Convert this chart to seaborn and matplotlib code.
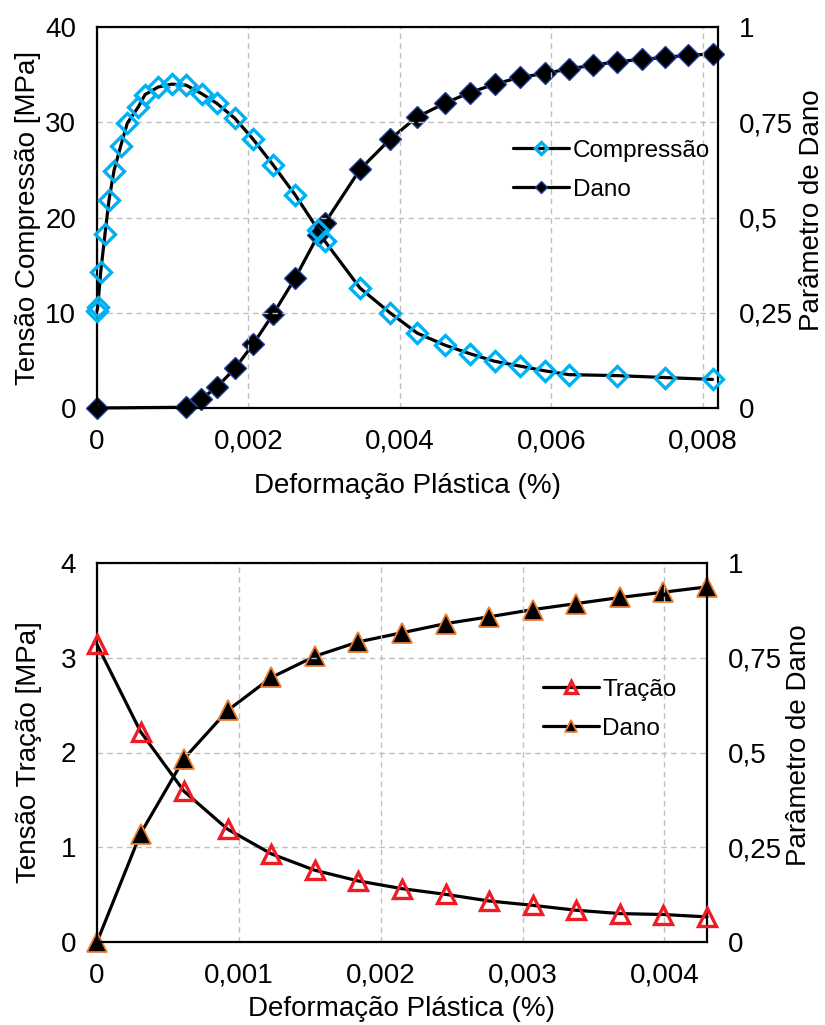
import matplotlib
matplotlib.use("Agg")
import matplotlib.pyplot as plt
from matplotlib.ticker import FixedLocator, FuncFormatter
import seaborn as sns
import pandas as pd

# --- Compressão (tensão x deformação plástica) ---
comp_strain = [0.0, 0.00001, 0.000049, 0.000106, 0.000158, 0.000224, 0.000313, 0.0004,
               0.000545, 0.000634, 0.000809, 0.000986, 0.001175, 0.001382, 0.00158,
               0.001822, 0.002063, 0.002327, 0.002614, 0.002921, 0.00301, 0.003472,
               0.003868, 0.004231, 0.004594, 0.004924, 0.005254, 0.005584, 0.005914,
               0.006235, 0.006865, 0.007498, 0.008128]
comp_stress = [10.2, 10.6, 14.3, 18.3, 21.8, 24.9, 27.5, 29.9,
               31.6, 32.9, 33.7, 34.0, 33.9, 33.0, 32.0,
               30.4, 28.2, 25.5, 22.4, 18.7, 17.5, 12.6,
               10.0, 7.85, 6.6, 5.7, 4.9, 4.4, 3.9,
               3.5, 3.4, 3.2, 3.0]

# --- Dano de compressão ---
dc_strain = [0.0, 0.001175, 0.001373, 0.001588, 0.001822, 0.002063, 0.002327, 0.002614,
             0.002921, 0.00301, 0.003472, 0.003868, 0.00422, 0.004594, 0.004924,
             0.005254, 0.005584, 0.005914, 0.006235, 0.006552, 0.006869, 0.007191,
             0.007498, 0.007806, 0.008128]
dc_damage = [0.0, 0.002, 0.023, 0.056, 0.104, 0.168, 0.247, 0.340,
             0.454, 0.486, 0.626, 0.705, 0.763, 0.800, 0.828,
             0.850, 0.868, 0.878, 0.890, 0.900, 0.909, 0.915,
             0.920, 0.926, 0.929]

# --- Tração e dano de tração ---
tr_strain = [0.0, 0.000307, 0.000614, 0.000921, 0.001229, 0.001536, 0.001843, 0.00215,
             0.002457, 0.002764, 0.003071, 0.003379, 0.003686, 0.003993, 0.0043]
tr_stress = [3.14, 2.22, 1.59, 1.19, 0.93, 0.757, 0.644, 0.563,
             0.503, 0.433, 0.387, 0.335, 0.30, 0.29, 0.265]
dt_damage = [0.0, 0.286, 0.484, 0.611, 0.698, 0.754, 0.792, 0.816,
             0.84, 0.858, 0.877, 0.893, 0.909, 0.923, 0.937]

top_xticks = [0, 0.002, 0.004, 0.006, 0.008]
top_yticks = [0, 10, 20, 30, 40]
bot_xticks = [0, 0.001, 0.002, 0.003, 0.004]
bot_yticks = [0, 1, 2, 3, 4]
dmg_ticks = [0, 0.25, 0.5, 0.75, 1]

sns.set_theme(style="white")
plt.rcParams["font.family"] = ["Liberation Sans", "DejaVu Sans"]
plt.rcParams["text.color"] = "black"
plt.rcParams["axes.labelcolor"] = "black"

CYAN = "#00B0F0"
NAVY = "#1F3F99"
RED = "#EE1C25"
ORANGE = "#ED7D31"
GRID = "#BFBFBF"
FS = 20
LFS = 17.5
LW = 2.3


def comma(v, pos=None):
    if v == 0:
        return "0"
    s = f"{v:.3f}".rstrip("0").rstrip(".")
    return s.replace(".", ",")


def style_axes(ax, xticks, yticks, xlim, ylim):
    ax.set_xlim(*xlim)
    ax.set_ylim(*ylim)
    ax.xaxis.set_major_locator(FixedLocator(xticks))
    ax.yaxis.set_major_locator(FixedLocator(yticks))
    ax.xaxis.set_major_formatter(FuncFormatter(comma))
    ax.yaxis.set_major_formatter(FuncFormatter(comma))
    ax.grid(True, color=GRID, linestyle=(0, (4, 3)), linewidth=1.0)
    ax.tick_params(length=0, labelsize=FS, colors="black")
    ax.tick_params(axis="x", pad=15)
    ax.tick_params(axis="y", pad=15)
    for sp in ax.spines.values():
        sp.set_color("black")
        sp.set_linewidth(1.6)


def style_right(ax2):
    ax2.set_ylim(0, 1)
    ax2.yaxis.set_major_locator(FixedLocator(dmg_ticks))
    ax2.yaxis.set_major_formatter(FuncFormatter(comma))
    ax2.tick_params(length=0, labelsize=FS, colors="black", pad=15)
    ax2.grid(False)
    for sp in ax2.spines.values():
        sp.set_visible(False)


fig = plt.figure(figsize=(8.25, 10.25), dpi=100)
ax1 = fig.add_axes([97 / 825, 1 - 408 / 1025, 621 / 825, 381 / 1025])
ax3 = fig.add_axes([97 / 825, 1 - 942 / 1025, 610 / 825, 379 / 1025])

# ---------------- Compressão ----------------
style_axes(ax1, top_xticks, top_yticks, (0, 0.0082), (0, 40))
ax2 = ax1.twinx()
style_right(ax2)

df_c = pd.DataFrame({"x": comp_strain, "y": comp_stress})
df_dc = pd.DataFrame({"x": dc_strain, "y": dc_damage})
sns.lineplot(data=df_dc, x="x", y="y", ax=ax2, color="black", linewidth=LW,
             marker="D", markersize=11, markerfacecolor="black",
             markeredgecolor=NAVY, markeredgewidth=1.0, label="Dano",
             sort=False, zorder=3, clip_on=False)
sns.lineplot(data=df_c, x="x", y="y", ax=ax1, color="black", linewidth=LW,
             marker="D", markersize=10, markerfacecolor="none",
             markeredgecolor=CYAN, markeredgewidth=2.4, label="Compressão",
             sort=False, zorder=3, clip_on=False)
ax1.set_zorder(ax2.get_zorder() + 1)
ax1.patch.set_visible(False)
ax2.get_legend().remove()
h1, l1 = ax1.get_legend_handles_labels()
h2, l2 = ax2.get_legend_handles_labels()
ax1.legend(h1 + h2, l1 + l2, loc="upper left", bbox_to_anchor=(0.655, 0.73),
           frameon=False, fontsize=LFS, markerscale=0.6, handlelength=2.3,
           handletextpad=0.15, labelspacing=0.7, borderaxespad=0)
for ax in (ax1, ax2):
    ax.set_xlim(0, 0.0082)

ax1.set_xlabel("Deformação Plástica (%)", fontsize=FS)
ax1.set_ylabel("Tensão Compressão [MPa]", fontsize=FS)
ax2.set_ylabel("Parâmetro de Dano", fontsize=FS)
ax1.xaxis.set_label_coords(0.5, -0.17)
ax1.yaxis.set_label_coords(-0.09, 0.5)
ax2.yaxis.set_label_coords(1.13, 0.52)

# ---------------- Tração ----------------
style_axes(ax3, bot_xticks, bot_yticks, (0, 0.0043), (0, 4))
ax4 = ax3.twinx()
style_right(ax4)

df_t = pd.DataFrame({"x": tr_strain, "y": tr_stress})
df_dt = pd.DataFrame({"x": tr_strain, "y": dt_damage})
sns.lineplot(data=df_dt, x="x", y="y", ax=ax4, color="black", linewidth=LW,
             marker="^", markersize=14.5, markerfacecolor="black",
             markeredgecolor=ORANGE, markeredgewidth=1.3, label="Dano",
             sort=False, zorder=3, clip_on=False)
sns.lineplot(data=df_t, x="x", y="y", ax=ax3, color="black", linewidth=LW,
             marker="^", markersize=13.5, markerfacecolor="none",
             markeredgecolor=RED, markeredgewidth=2.4, label="Tração",
             sort=False, zorder=3, clip_on=False)
ax3.set_zorder(ax4.get_zorder() + 1)
ax3.patch.set_visible(False)
ax4.get_legend().remove()
h3, l3 = ax3.get_legend_handles_labels()
h4, l4 = ax4.get_legend_handles_labels()
ax3.legend(h3 + h4, l3 + l4, loc="upper left", bbox_to_anchor=(0.715, 0.72),
           frameon=False, fontsize=LFS, markerscale=0.6, handlelength=2.3,
           handletextpad=0.15, labelspacing=0.7, borderaxespad=0)
for ax in (ax3, ax4):
    ax.set_xlim(0, 0.0043)

ax3.set_xlabel("Deformação Plástica (%)", fontsize=FS)
ax3.set_ylabel("Tensão Tração [MPa]", fontsize=FS)
ax4.set_ylabel("Parâmetro de Dano", fontsize=FS)
ax3.xaxis.set_label_coords(0.5, -0.142)
ax3.yaxis.set_label_coords(-0.09, 0.5)
ax4.yaxis.set_label_coords(1.13, 0.52)

fig.savefig("out.png", dpi=100, facecolor="white")
